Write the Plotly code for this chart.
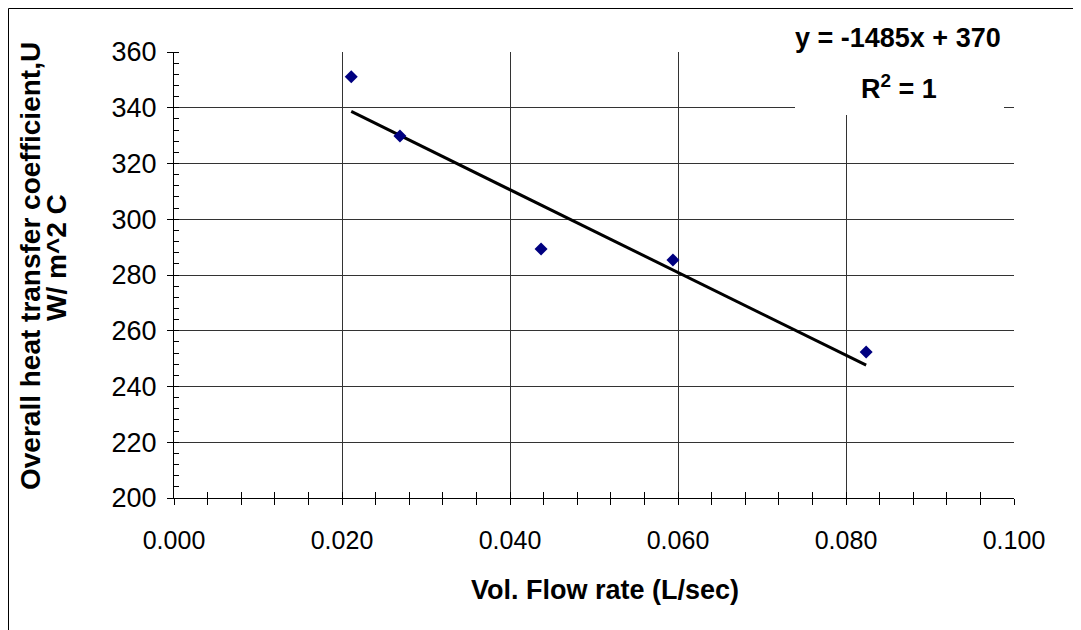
import plotly.graph_objects as go

# ---- data ----
flow_rate = [0.0211, 0.0269, 0.0437, 0.0594, 0.0824]   # L/sec
u_value = [351.1, 329.9, 289.3, 285.4, 252.4]          # W/m^2 C
trend_slope = -1485
trend_intercept = 370
eq_text = "y = -1485x + 370"
r2_text = "R<sup>2</sup> = 1"
x_title = "Vol. Flow rate (L/sec)"
y_title_1 = "Overall heat transfer coefficient,U"
y_title_2 = "W/ m^2 C"
x_range = [0, 0.1]
y_range = [200, 360]

trend_x = [min(flow_rate), max(flow_rate)]
trend_y = [trend_slope * x + trend_intercept for x in trend_x]

# the page body has an 8px margin, so the figure sits 8px right/down on screen
OFF = 8
W, H = 1073, 622
L, T = 174 - OFF, 52 - OFF
R = W - (1014 - OFF)
B = H - (498 - OFF)
pw, ph = W - L - R, H - T - B


def sx(p):  # screen pixel -> paper x
    return (p - OFF - L) / pw


def sy(p):  # screen pixel -> paper y
    return (H - B - (p - OFF)) / ph


FONT = "Liberation Sans, Arial, sans-serif"

fig = go.Figure()
fig.add_trace(go.Scatter(
    x=trend_x, y=trend_y, mode="lines",
    line=dict(color="black", width=3), showlegend=False, hoverinfo="skip"))
fig.add_trace(go.Scatter(
    x=flow_rate, y=u_value, mode="markers",
    marker=dict(symbol="diamond", size=10, color="#000080", line=dict(width=0)),
    showlegend=False))
# empty trace on an overlay axis carrying the inner half of the crossing x ticks
fig.add_trace(go.Scatter(x=[], y=[], xaxis="x2", showlegend=False))

grid = "#333333"
fig.update_layout(
    width=W, height=H, autosize=False,
    margin=dict(l=L, r=R, t=T, b=B, pad=0),
    paper_bgcolor="white", plot_bgcolor="white",
    font=dict(family=FONT, color="black"),
    xaxis=dict(
        range=x_range, dtick=0.02, tick0=0, tickformat=".3f",
        showgrid=True, gridcolor=grid, gridwidth=1, zeroline=False,
        showline=True, linecolor="black", linewidth=1,
        ticks="outside", ticklen=6, tickcolor="black",
        minor=dict(dtick=0.004, ticks="outside", ticklen=6, tickcolor="black", showgrid=False),
        tickfont=dict(size=25, family=FONT), ticklabelstandoff=14,
    ),
    xaxis2=dict(
        range=x_range, matches="x", overlaying="x", anchor="y", side="bottom",
        dtick=0.02, tick0=0, showgrid=False, zeroline=False, showticklabels=False,
        ticks="inside", ticklen=6, tickcolor="black",
        minor=dict(dtick=0.004, ticks="inside", ticklen=6, tickcolor="black", showgrid=False),
    ),
    yaxis=dict(
        range=y_range, dtick=20, tick0=200,
        showgrid=True, gridcolor=grid, gridwidth=1, zeroline=False,
        showline=True, linecolor="black", linewidth=1,
        ticks="outside", ticklen=6, tickcolor="black",
        minor=dict(dtick=4, ticks="inside", ticklen=5, tickcolor="black", showgrid=False),
        tickfont=dict(size=27, family=FONT), ticklabelstandoff=5,
    ),
)

# x axis title
fig.add_annotation(x=sx(605), y=sy(590), xref="paper", yref="paper",
                   xanchor="center", yanchor="middle",
                   text=x_title, showarrow=False,
                   font=dict(size=27, family=FONT, weight="bold"))
# y axis title, two lines
fig.add_annotation(x=sx(30), y=sy(266), xref="paper", yref="paper",
                   xanchor="center", yanchor="middle", textangle=-90,
                   text=y_title_1, showarrow=False,
                   font=dict(size=28, family=FONT, weight="bold"))
fig.add_annotation(x=sx(56), y=sy(258), xref="paper", yref="paper",
                   xanchor="center", yanchor="middle", textangle=-90,
                   text=y_title_2, showarrow=False,
                   font=dict(size=28, family=FONT, weight="bold"))

# outer chart border (left and top edges visible)
fig.add_shape(type="path", xref="paper", yref="paper",
              path=(f"M {sx(8.5)} {sy(700)} L {sx(8.5)} {sy(8.5)} "
                    f"L {sx(1200)} {sy(8.5)}"),
              line=dict(color="black", width=1), layer="above")
# white label background covering gridlines
fig.add_shape(type="rect", xref="paper", yref="paper",
              x0=sx(795), x1=sx(1004), y0=sy(115), y1=sy(14),
              fillcolor="white", line=dict(width=0), layer="above")

fig.add_annotation(x=sx(898), y=sy(38), xref="paper", yref="paper",
                   xanchor="center", yanchor="middle",
                   text=eq_text, showarrow=False,
                   font=dict(size=27, family=FONT, weight="bold"))
fig.add_annotation(x=sx(899), y=sy(87), xref="paper", yref="paper",
                   xanchor="center", yanchor="middle",
                   text=r2_text, showarrow=False,
                   font=dict(size=27, family=FONT, weight="bold"))

fig.write_html("out.html")
